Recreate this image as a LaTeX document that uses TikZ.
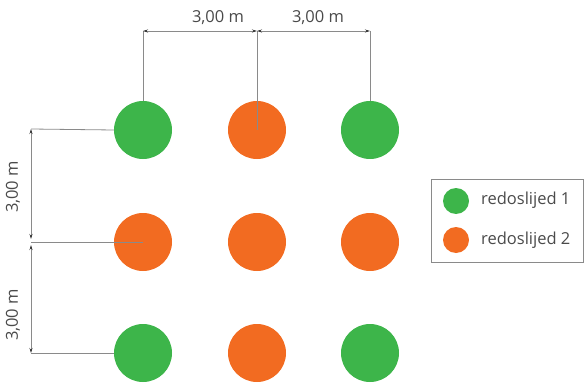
\documentclass[tikz,border=0pt]{standalone}
\usepackage{fontspec}
\setmainfont{Open Sans}
\usetikzlibrary{arrows.meta}
\definecolor{grn}{HTML}{3DB54A}
\definecolor{org}{HTML}{F26B21}
\definecolor{txt}{HTML}{4A4A4A}
\definecolor{ln}{HTML}{8A8A8A}
\begin{document}
\begin{tikzpicture}[x=1pt,y=-1pt,
  tree/.style={circle,minimum size=58pt,inner sep=0pt},
  g/.style={tree,fill=grn},
  o/.style={tree,fill=org},
  lg/.style={circle,minimum size=26pt,inner sep=0pt},
  ext/.style={draw=ln,line width=0.8pt},
  dim/.style={draw=ln,line width=0.8pt,{Stealth[length=5pt,width=3pt,color=black!80]}-{Stealth[length=5pt,width=3pt,color=black!80]}},
  lbl/.style={font=\fontsize{16.5}{19}\selectfont,text=txt,inner sep=0pt}]
\useasboundingbox (0,0) rectangle (586,385);
% trees
\node[g] (a1) at (143,130) {};
\node[o] (a2) at (257,130) {};
\node[g] (a3) at (370,130) {};
\node[o] (b1) at (143,242) {};
\node[o] (b2) at (257,242) {};
\node[o] (b3) at (370,242) {};
\node[g] (c1) at (143,353) {};
\node[o] (c2) at (257,353) {};
\node[g] (c3) at (370,353) {};
% top dimension
\coordinate (t1) at (143,31);
\coordinate (t2) at (257,31);
\coordinate (t3) at (370,31);
\draw[ext] (t1) -- (a1.north);
\draw[ext] (t2) -- (a2.center);
\draw[ext] (t3) -- (a3.north);
\draw[dim] (t1) -- (t2);
\draw[dim] (t2) -- (t3);
\node[lbl] (tl1) at (218,18) {3,00 m};
\node[lbl] (tl2) at (318,18) {3,00 m};
% left dimension
\coordinate (l1) at (31,129);
\coordinate (l2a) at (31,239);
\coordinate (l2b) at (31,245);
\coordinate (l2) at (31,242);
\coordinate (l3) at (31,353);
\draw[ext] (l1) -- (a1.west);
\draw[ext] (l2) -- (b1.center);
\draw[ext] (l3) -- (c1.west);
\draw[dim] (l1) -- (l2a);
\draw[dim] (l2b) -- (l3);
\node[lbl,rotate=90] (ll1) at (13,187) {3,00 m};
\node[lbl,rotate=90] (ll2) at (13,315) {3,00 m};
% legend
\node[draw=ln,line width=1pt,minimum width=152pt,minimum height=83pt,inner sep=0pt] (leg) at (507,220.5) {};
\node[lg,fill=grn] (lg1) at (456,201) {};
\node[lg,fill=org] (lg2) at (456,240) {};
\node[lbl,anchor=west] (lt1) at (481,200) {redoslijed 1};
\node[lbl,anchor=west] (lt2) at (481,240) {redoslijed 2};
\end{tikzpicture}
\end{document}
